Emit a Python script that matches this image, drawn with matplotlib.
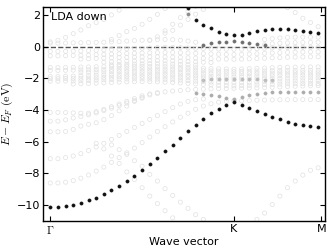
import numpy as np
import matplotlib
matplotlib.use("Agg")
import matplotlib.pyplot as plt

N = np.nan
# k-point index along the path (Gamma=0, K=24)
kidx = list(range(36))
tick_pos = [0, 24, 35.4]
tick_labels = [r'$\Gamma$', 'K', 'M']
yticks = [-10, -8, -6, -4, -2, 0, 2]

# --- strongly weighted (black) bands ---
dark1 = [-10.13,-10.10,-10.05,-9.97,-9.85,-9.70,-9.52,-9.30,-9.05,-8.78,-8.47,-8.13,
         -7.77,-7.38,-7.00,-6.59,-6.18,-5.76,-5.34,-4.92,-4.55,-4.20,-3.92,-3.68,
         -3.50,-3.66,-3.86,-4.04,-4.23,-4.42,-4.59,-4.74,-4.85,-4.95,-5.03,-5.07]
dark2 = [N]*18 + [2.46,1.66,1.39,1.15,0.94,0.78,0.72,0.74,0.86,0.99,1.07,1.12,
                  1.14,1.12,1.08,1.00,0.93,0.86]

# --- medium weighted (grey) bands ---
mid1 = [N]*20 + [0.12,0.23,0.28,0.32,0.34,0.31,0.22,0.15,0.10] + [N]*7
mid2 = [N]*18 + [2.08] + [N]*17
mid3 = [N]*20 + [-2.08,-2.07,-2.06,-2.05,-2.05,-2.05,-2.06,-2.07,-2.08,-2.10] + [N]*6
mid4 = [N]*19 + [-2.95,-3.00,-3.05,-3.12,-3.25,-3.30,-3.15,-3.05,-2.97,-2.92,-2.89,
                 -2.87,-2.86,-2.86,-2.86,-2.86,-2.86]

# --- weakly weighted (light) bands ---
up1 = [0.30,0.40,0.58,0.82,1.05,1.32,1.52,1.72,2.00,2.30,2.62] + [N]*25
up2 = [N]*8 + [0.45,0.70,0.95,1.15,1.41,1.72,2.04,2.40,2.75] + [N]*19
up3 = [N]*13 + [0.40,0.62,0.85,1.03,1.36,1.72,2.05,2.35] + [N]*15
up4 = [N]*15 + [1.00,1.41,1.83,2.20,2.55] + [N]*16
up5 = [N]*30 + [2.75,2.46,2.15,1.79,1.52,1.26]
up6 = [N]*28 + [0.45,0.50,0.55,0.58,0.60,0.60,0.60,0.60]
f1 = [0.22,0.22,0.23,0.24,0.25,0.26,0.27,0.28,0.30,0.32,0.35,0.38,0.40,0.42,0.44,
      0.45,0.44,0.40,0.35,0.28] + [N]*8 + [0.12,0.18,0.22,0.24,0.25,0.26,0.27,0.28]
f2 = [-0.30,-0.30,-0.29,-0.28,-0.27,-0.25,-0.23,-0.20,-0.18,-0.16,-0.14,-0.12,-0.10,
      -0.08,-0.06,-0.05,-0.05,-0.06,-0.08,-0.10,-0.12,-0.14,-0.15,-0.16,-0.17,-0.16,
      -0.15,-0.13,-0.10,-0.08,-0.06,-0.05,-0.04,-0.04,-0.03,-0.03]
f3 = [-0.58,-0.58,-0.57,-0.56,-0.55,-0.53,-0.51,-0.49,-0.47,-0.45,-0.43,-0.42,-0.40,
      -0.39,-0.38,-0.37,-0.37,-0.38,-0.40,-0.42,-0.44,-0.46,-0.48,-0.49,-0.50,-0.49,
      -0.47,-0.45,-0.42,-0.40,-0.38,-0.36,-0.35,-0.34,-0.33,-0.33]
f4 = [N]*4 + [-0.78,-0.76,-0.74,-0.72,-0.70,-0.68,-0.67,-0.66,-0.65,-0.64,-0.64,-0.65,
      -0.66,-0.68,-0.70,-0.72,-0.74,-0.76,-0.78,-0.79,-0.80,-0.79,-0.77,-0.75,-0.73,
      -0.71,-0.69,-0.67,-0.66,-0.65,-0.64,-0.64]
f5 = [N]*7 + [-0.98,-0.96,-0.94,-0.92,-0.90,-0.89,-0.88,-0.88,-0.89,-0.90,-0.92,-0.94,
      -0.96,-0.98,-1.00] + [N]*14
f6 = [N]*8 + [-1.15,-1.13,-1.11,-1.10,-1.09,-1.08,-1.08,-1.09,-1.10,-1.12,-1.14,-1.16]\
     + [N]*16
c1 = [-1.32,-1.32,-1.31,-1.30,-1.29,-1.28,-1.27,-1.26,-1.25,-1.25,-1.24,-1.24,-1.24,
      -1.25,-1.26,-1.27,-1.28,-1.30,-1.32,-1.34,-1.36,-1.38,-1.40,-1.41,-1.42,-1.41,
      -1.39,-1.37,-1.35,-1.33,-1.31,-1.30,-1.29,-1.28,-1.28,-1.28]
c2 = [-1.50,-1.50,-1.49,-1.48,-1.47,-1.46,-1.45,-1.44,-1.43,-1.42,-1.41,-1.40,-1.40,
      -1.41,-1.42,-1.43,-1.44,-1.45,-1.47,-1.49,-1.51,-1.53,-1.55,-1.56,-1.57,-1.56,
      -1.55,-1.54,-1.53,-1.52,-1.51,-1.50,-1.50,-1.49,-1.49,-1.49]
c3 = [N]*4 + [-1.62,-1.61,-1.60,-1.59,-1.58,-1.57,-1.56,-1.56,-1.56,-1.57,-1.58,-1.59,
      -1.60,-1.62,-1.64,-1.66,-1.68,-1.70,-1.71,-1.72,-1.72,-1.71,-1.70,-1.69,-1.68,
      -1.67,-1.66,-1.66,-1.65,-1.65,-1.65,-1.65]
c4 = [-1.88,-1.88,-1.87,-1.86,-1.84,-1.82,-1.80,-1.78,-1.76,-1.74,-1.73,-1.72,-1.72,
      -1.73,-1.74,-1.75,-1.77,-1.79,-1.81,-1.83,-1.85,-1.87,-1.89,-1.90,-1.91,-1.90,
      -1.88,-1.86,-1.84,-1.83,-1.82,-1.81,-1.80,-1.80,-1.80,-1.80]
c5 = [-2.02,-2.02,-2.01,-2.00,-1.99,-1.98,-1.96,-1.94,-1.92,-1.90,-1.89,-1.88,-1.88,
      -1.89,-1.90,-1.91,-1.92,-1.94,-1.96,-1.98,-2.00,-2.02,-2.04,-2.05,-2.06,-2.05,
      -2.04,-2.03,-2.02,-2.01,-2.00,-1.99,-1.98,-1.98,-1.97,-1.97]
c6 = [-2.18,-2.18,-2.17,-2.16,-2.15,-2.13,-2.11,-2.09,-2.07,-2.05,-2.04,-2.03,-2.03,
      -2.04,-2.05,-2.07,-2.09,-2.11,-2.14,-2.17,-2.20,-2.23,-2.25,-2.27,-2.28,-2.27,
      -2.25,-2.23,-2.21,-2.19,-2.18,-2.17,-2.16,-2.16,-2.15,-2.15]
c7 = [N]*3 + [-2.36,-2.34,-2.32,-2.30,-2.28,-2.26,-2.24,-2.22,-2.21,-2.20,-2.21,-2.22,
      -2.24,-2.26,-2.29,-2.32,-2.35,-2.38,-2.41,-2.44,-2.46,-2.47,-2.46,-2.44,-2.42,
      -2.40,-2.38,-2.36,-2.35,-2.34,-2.33,-2.33,-2.33]
L1 = [-4.15,-4.15,-4.16,-4.18,-4.20,-4.20,-4.10,-3.96,-3.79,-3.62,-3.45,-3.28,-3.10,
      -2.98,-2.90,-2.85,-2.80,-2.76,-2.72,-2.70,-2.68,-2.66,-2.65,-2.64,-2.63,-2.62,
      -2.61,-2.60,-2.58,-2.56,-2.54,-2.52,-2.50,-2.48,-2.47,-2.46]
L2 = [-4.70,-4.70,-4.62,-4.50,-4.40,-4.30,-4.18,-4.04,-3.88,-3.72,-3.56,-3.40,-3.25]\
     + [N]*23
L3 = [-5.37,-5.37,-5.35,-5.22,-5.01,-4.90,-4.80,-4.60,-4.35,-4.05,-3.75,-3.45,-3.20,
      -3.05,-2.95] + [N]*21
L4 = [-7.07,-7.07,-7.00,-6.90,-6.75,-6.55,-6.33,-6.10,-5.85,-5.60,-5.35,-5.10,-4.85,
      -4.59,-4.35,-4.10,-3.85,-3.62,-3.45,-3.35,-3.30] + [N]*15
L5 = [-8.60,-8.60,-8.55,-8.45,-8.30,-8.10,-7.85,-7.60,-7.30,-7.00,-6.70,-6.40,-6.05,
      -5.70,-5.35,-5.05,-4.75,-4.45,-4.20,-3.95,-3.75,-3.60,-3.50,-3.45,-3.40] + [N]*11
L6 = [N]*6 + [-6.10,-6.45,-6.90,-7.37,-7.90,-8.38,-8.90,-9.43,-9.90,-10.35,-10.80,
              -11.25] + [N]*18
L7 = [N]*8 + [-6.20,-6.50,-6.80,-7.20,-7.54,-8.06,-8.48,-8.96,-9.39,-9.81,-10.20,
              -10.60,-10.90,-11.20] + [N]*14
L8 = [N]*26 + [-11.30,-10.90,-10.50,-9.96,-9.43,-8.90,-8.48,-8.10,-7.80,-7.64]
km1 = [N]*24 + [-3.45,-3.42,-3.40,-3.38,-3.37,-3.36,-3.35,-3.35,-3.34,-3.34,-3.34,-3.34]

light_bands = [up1, up2, up3, up4, up5, up6, f1, f2, f3, f4, f5, f6,
               c1, c2, c3, c4, c5, c6, c7, L1, L2, L3, L4, L5, L6, L7, L8, km1]
mid_bands = [mid1, mid2, mid3, mid4]
mid_colors = ['#707070', '#8c8c8c', '#bdbdbd', '#acacac']
dark_bands = [dark1, dark2]

plt.rcParams['mathtext.fontset'] = 'cm'
fig = plt.figure(figsize=(3.32, 2.49), dpi=100)
ax = fig.add_axes([0.1295, 0.1124, 0.8495, 0.8594])

for b in light_bands:
    ax.scatter(kidx, b, s=9, facecolors='none', edgecolors='#e1e1e1',
               linewidths=0.5, zorder=2)
for b, col in zip(mid_bands, mid_colors):
    ax.scatter(kidx, b, s=5, facecolors=col, edgecolors=col,
               linewidths=0.5, zorder=3)
for b in dark_bands:
    ax.scatter(kidx, b, s=5, facecolors='#111111', edgecolors='#111111',
               linewidths=0.5, zorder=4)

ax.axhline(0, color='#555555', ls='--', lw=1.0, zorder=1)

ax.set_xlim(-0.95, 35.9)
ax.set_ylim(-11, 2.5)
ax.set_xticks(tick_pos)
ax.set_xticklabels(tick_labels)
ax.set_yticks(yticks)
ax.tick_params(direction='in', top=True, right=True, labelsize=8, length=3.5,
               width=0.8, pad=2)
for sp in ax.spines.values():
    sp.set_linewidth(1.0)
ax.set_xlabel('Wave vector', fontsize=8, labelpad=1)
ax.set_ylabel(r'$E-E_F\ \mathrm{(eV)}$', fontsize=8.5, labelpad=1)
ax.text(0.03, 0.975, 'LDA down', transform=ax.transAxes, fontsize=8,
        va='top', ha='left')

fig.savefig('out.png', dpi=100)
